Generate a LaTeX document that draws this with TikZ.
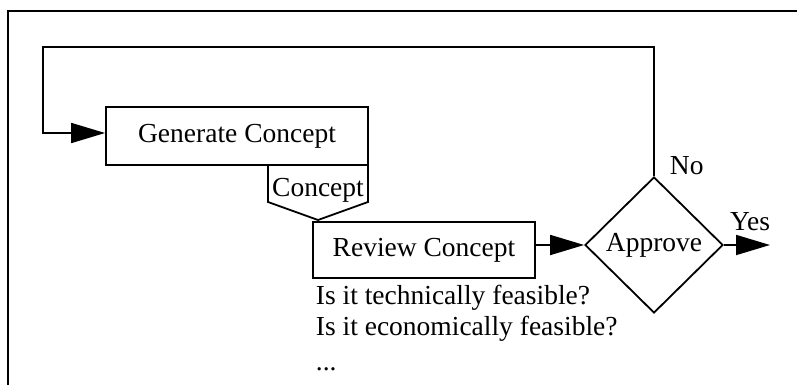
\documentclass[tikz,border=0pt]{standalone}
\usepackage{fontspec}
\setmainfont{Liberation Serif}
\usetikzlibrary{arrows.meta,shapes.geometric}
\begin{document}
\begin{tikzpicture}[x=1pt,y=1pt,line width=1.8pt,
  font=\fontsize{27.5}{32}\selectfont,
  box/.style={draw,rectangle,inner sep=0pt},
  decide/.style={draw,diamond,inner sep=0pt,minimum width=138pt,minimum height=136pt},
  flow/.style={-{Triangle[length=34pt,width=20pt]}},
  plain/.style={inner sep=0pt}]
\useasboundingbox (0,0) rectangle (797,-385);
\draw[line width=2.6pt] (8,-385) -- (8,-11) -- (797,-11);
% Generate
\node[box,minimum width=262pt,minimum height=58pt] (gen) at (237,-136) {Generate Concept};
% Concept pentagon
\draw (268,-165) -- (368,-165) -- (368,-202) -- (318,-220) -- (268,-202) -- cycle;
\node[plain,anchor=base] (concept) at (318,-196) {Concept};
% Review
\node[box,minimum width=222pt,minimum height=56pt] (rev) at (424,-250) {Review Concept};
\node[plain,anchor=base west] (q1) at (315,-304) {Is it technically feasible?};
\node[plain,anchor=base west] (q2) at (315,-335) {Is it economically feasible?};
\node[plain,anchor=base west] (q3) at (315,-370) {...};
% Approve
\node[decide] (app) at (654,-245) {Approve};
\node[plain,anchor=base west] (no) at (669,-174) {No};
\node[plain,anchor=base] (yes) at (750,-230) {Yes};
\coordinate (yesend) at (770,-245);
\coordinate (loopa) at (654,-47);
\coordinate (loopb) at (43,-47);
\coordinate (loopc) at (43,-133);
% connectors
\draw[flow] (rev.east |- app.west) -- (app.west);
\draw[flow] (app.east) -- (yesend);
\draw[flow] (app.north) -- (loopa) -- (loopb) -- (loopc) -- (gen.west |- loopc);
\end{tikzpicture}
\end{document}
